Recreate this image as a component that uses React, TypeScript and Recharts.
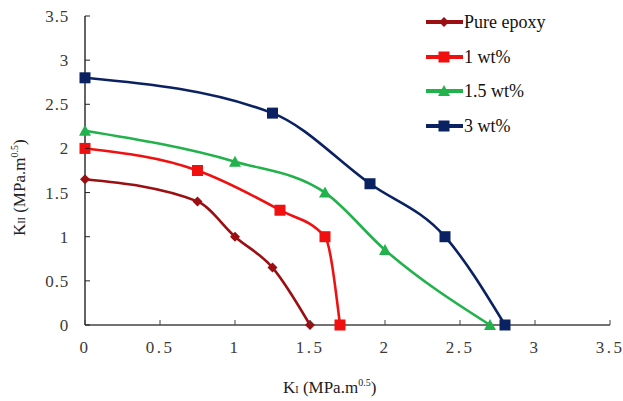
import React from 'react';
import { LineChart, Line, XAxis, YAxis, Legend } from 'recharts';

const xTicks = [0, 0.5, 1, 1.5, 2, 2.5, 3, 3.5];
const yTicks = [0, 0.5, 1, 1.5, 2, 2.5, 3, 3.5];

const seriesNames = ['Pure epoxy', '1 wt%', '1.5 wt%', '3 wt%'];

const pureKI = [0, 0.75, 1, 1.25, 1.5];
const pureKII = [1.65, 1.4, 1, 0.65, 0];

const wt1KI = [0, 0.75, 1.3, 1.6, 1.7];
const wt1KII = [2, 1.75, 1.3, 1, 0];

const wt15KI = [0, 1, 1.6, 2, 2.7];
const wt15KII = [2.2, 1.85, 1.5, 0.85, 0];

const wt3KI = [0, 1.25, 1.9, 2.4, 2.8];
const wt3KII = [2.8, 2.4, 1.6, 1, 0];

const toPoints = (xs: number[], ys: number[]) => xs.map((x, i) => ({ x, y: ys[i] }));

const COLORS = ['#9B0F12', '#F01010', '#22B24C', '#0B2262'];
const FONT = '"Liberation Serif", "Times New Roman", serif';

const Diamond = ({ cx, cy, color }: any) => (
  <path d={`M${cx},${cy - 5}L${cx + 5},${cy}L${cx},${cy + 5}L${cx - 5},${cy}Z`} fill={color} />
);
const Square = ({ cx, cy, color }: any) => (
  <rect x={cx - 5.5} y={cy - 5.5} width={11} height={11} fill={color} />
);
const Triangle = ({ cx, cy, color }: any) => (
  <path d={`M${cx},${cy - 6}L${cx + 6},${cy + 5}L${cx - 6},${cy + 5}Z`} fill={color} />
);

const shapes = [Diamond, Square, Triangle, Square];

const makeDot = (idx: number) => (props: any) => {
  const { cx, cy, index } = props;
  if (cx == null || cy == null) return <g key={`d${idx}-${index}`} />;
  const S = shapes[idx];
  return (
    <g key={`d${idx}-${index}`}>
      <S cx={cx} cy={cy} color={COLORS[idx]} />
    </g>
  );
};

const XTick = (props: any) => {
  const { x, y, payload } = props;
  return (
    <g>
      <line x1={x} y1={y} x2={x} y2={y - 5} stroke="#444" strokeWidth={1} />
      <text x={x} y={y + 28} textAnchor="middle" fill="#3a3a3a" style={{ fontFamily: FONT, fontSize: 17, letterSpacing: 2.5 }}>
        {String(payload.value)}
      </text>
    </g>
  );
};

const YTick = (props: any) => {
  const { x, y, payload } = props;
  return (
    <g>
      <line x1={x} y1={y} x2={x + 5} y2={y} stroke="#222" strokeWidth={1} />
      <text x={x - 16} y={y + 6} textAnchor="end" fill="#3a3a3a" style={{ fontFamily: FONT, fontSize: 17, letterSpacing: 0.8 }}>
        {String(payload.value)}
      </text>
    </g>
  );
};

const XLabel = () => (
  <text x={283} y={393} fill="#222" style={{ fontFamily: FONT, fontSize: 17 }}>
    K<tspan style={{ fontSize: 10 }}>I</tspan>
    <tspan> (MPa.m</tspan>
    <tspan style={{ fontSize: 10 }} dy={-7}>0.5</tspan>
    <tspan dy={7}>)</tspan>
  </text>
);

const YLabel = () => (
  <text x={0} y={0} transform="translate(25,236) rotate(-90)" fill="#222" style={{ fontFamily: FONT, fontSize: 17 }}>
    K<tspan style={{ fontSize: 10 }}>II</tspan>
    <tspan> (MPa.m</tspan>
    <tspan style={{ fontSize: 10 }} dy={-7}>0.5</tspan>
    <tspan dy={7}>)</tspan>
  </text>
);

const LegendContent = () => (
  <div style={{ fontFamily: FONT, fontSize: 18, color: '#111' }}>
    {seriesNames.map((name, i) => {
      const S = shapes[i];
      return (
        <div key={name} style={{ display: 'flex', alignItems: 'center', height: 34.5 }}>
          <svg width={37} height={14} style={{ display: 'block' }}>
            <line x1={0} y1={7} x2={37} y2={7} stroke={COLORS[i]} strokeWidth={4} />
            <S cx={18} cy={7} color={COLORS[i]} />
          </svg>
          <span style={{ marginLeft: 1, lineHeight: '18px' }}>{name}</span>
        </div>
      );
    })}
  </div>
);

const datasets = [
  toPoints(pureKI, pureKII),
  toPoints(wt1KI, wt1KII),
  toPoints(wt15KI, wt15KII),
  toPoints(wt3KI, wt3KII),
];

export default function App() {
  return (
    <div style={{ position: 'absolute', left: 0, top: 0, width: 623, height: 401, background: '#fff' }}>
      <LineChart width={623} height={401} margin={{ top: 16, right: 13, left: 0, bottom: 0 }}>
        <XAxis
          type="number"
          dataKey="x"
          domain={[0, 3.5]}
          ticks={xTicks}
          height={76}
          tickSize={0}
          tickMargin={0}
          tickLine={false}
          axisLine={{ stroke: '#444', strokeWidth: 1.3 }}
          tick={<XTick />}
          interval={0}
          label={{ content: () => <XLabel /> }}
        />
        <YAxis
          type="number"
          dataKey="y"
          domain={[0, 3.5]}
          ticks={yTicks}
          width={85}
          tickSize={0}
          tickMargin={0}
          tickLine={false}
          axisLine={{ stroke: '#111', strokeWidth: 1.3 }}
          tick={<YTick />}
          interval={0}
          label={{ content: () => <YLabel /> }}
        />
        <Legend
          layout="vertical"
          align="center"
          verticalAlign="middle"
          content={() => <LegendContent />}
          wrapperStyle={{ left: 426, top: 5, width: 160, height: 140 }}
        />
        {datasets.map((d, i) => (
          <Line
            key={seriesNames[i]}
            name={seriesNames[i]}
            data={d}
            dataKey="y"
            type="monotone"
            stroke={COLORS[i]}
            strokeWidth={2.6}
            dot={makeDot(i)}
            activeDot={false}
            isAnimationActive={false}
          />
        ))}
      </LineChart>
    </div>
  );
}
